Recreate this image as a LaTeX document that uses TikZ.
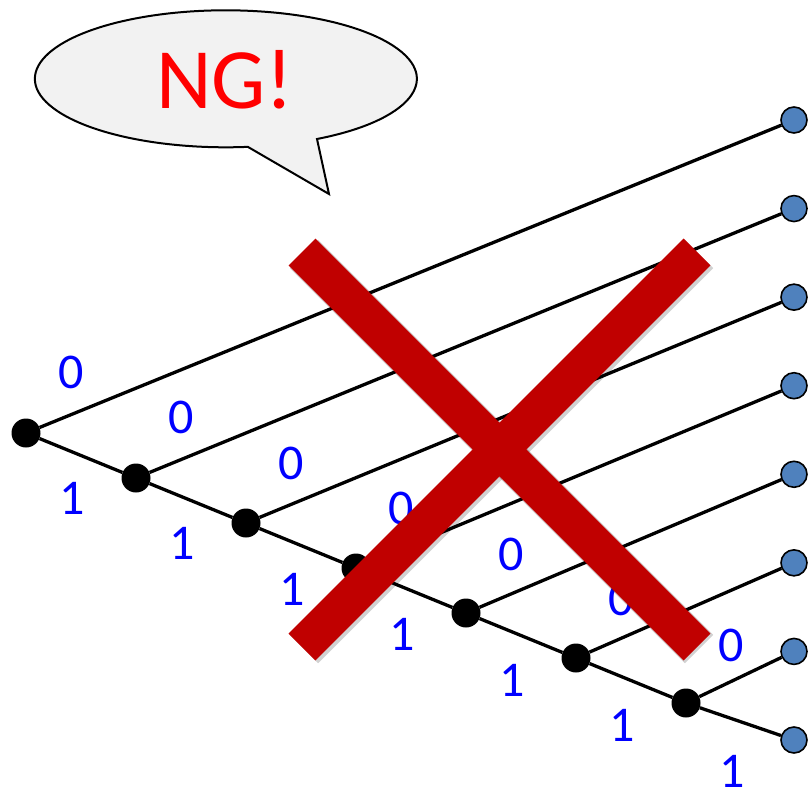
\documentclass[tikz,border=0pt]{standalone}
\usepackage{fontspec}
\setmainfont{Carlito}
\definecolor{leafblue}{HTML}{4F81BD}
\definecolor{ngred}{HTML}{C00000}
\definecolor{bubblegray}{HTML}{F2F2F2}
\tikzset{
  inner/.style={
    circle,
    fill=black,
    inner sep=0pt,
    minimum size=29pt
  },
  leaf/.style={
    circle,
    draw=black,
    line width=1.6pt,
    fill=leafblue,
    inner sep=0pt,
    minimum size=26pt
  },
  branch/.style={
    draw,
    line width=3.3pt
  },
  bit/.style={
    text=blue,
    font=\fontsize{50}{50}\selectfont
  },
  cross/.style={
    line width=38pt,
    ngred
  },
  crossshadow/.style={
    line width=40pt,
    black,
    opacity=0.18
  }
}

\begin{document}
\begin{tikzpicture}[x=1pt,y=-1pt]
  \useasboundingbox (0,0) rectangle (809,790);
  % speech bubble
  \draw[fill=bubblegray,line width=2pt] (317,139)
    arc[start angle=-61.5, end angle=276.6, x radius=191pt, y radius=68.5pt]
    -- (329,194) -- cycle;
  \node[text=red,font=\fontsize{86}{86}\selectfont] (ng) at (225,80) {NG!};
  % tree
  \foreach \i in {0,...,6}
    \node[inner] (n\i) at ({26+110*\i},{433+45*\i}) {};
  \foreach \i in {0,...,7}
    \node[leaf] (l\i) at (794,{120+88.57*\i}) {};
  \foreach \i in {0,...,6}
    \draw[branch] (n\i) -- (l\i);
  \foreach \i [count=\j] in {0,...,5}
    \draw[branch] (n\i) -- (n\j);
  \draw[branch] (n6) -- (l7);
  \foreach \i in {0,...,6} {
    \node[bit] (zero\i) at ({71+110*\i},{372+45.5*\i}) {0};
    \node[bit] (one\i) at ({72+110*\i},{498+45.5*\i}) {1};
  }
  % the cross
  \draw[crossshadow] (304,254) -- (699,649);
  \draw[crossshadow] (699,254) -- (304,649);
  \draw[cross] (302,252) -- (697,647);
  \draw[cross] (697,252) -- (302,647);
\end{tikzpicture}
\end{document}
